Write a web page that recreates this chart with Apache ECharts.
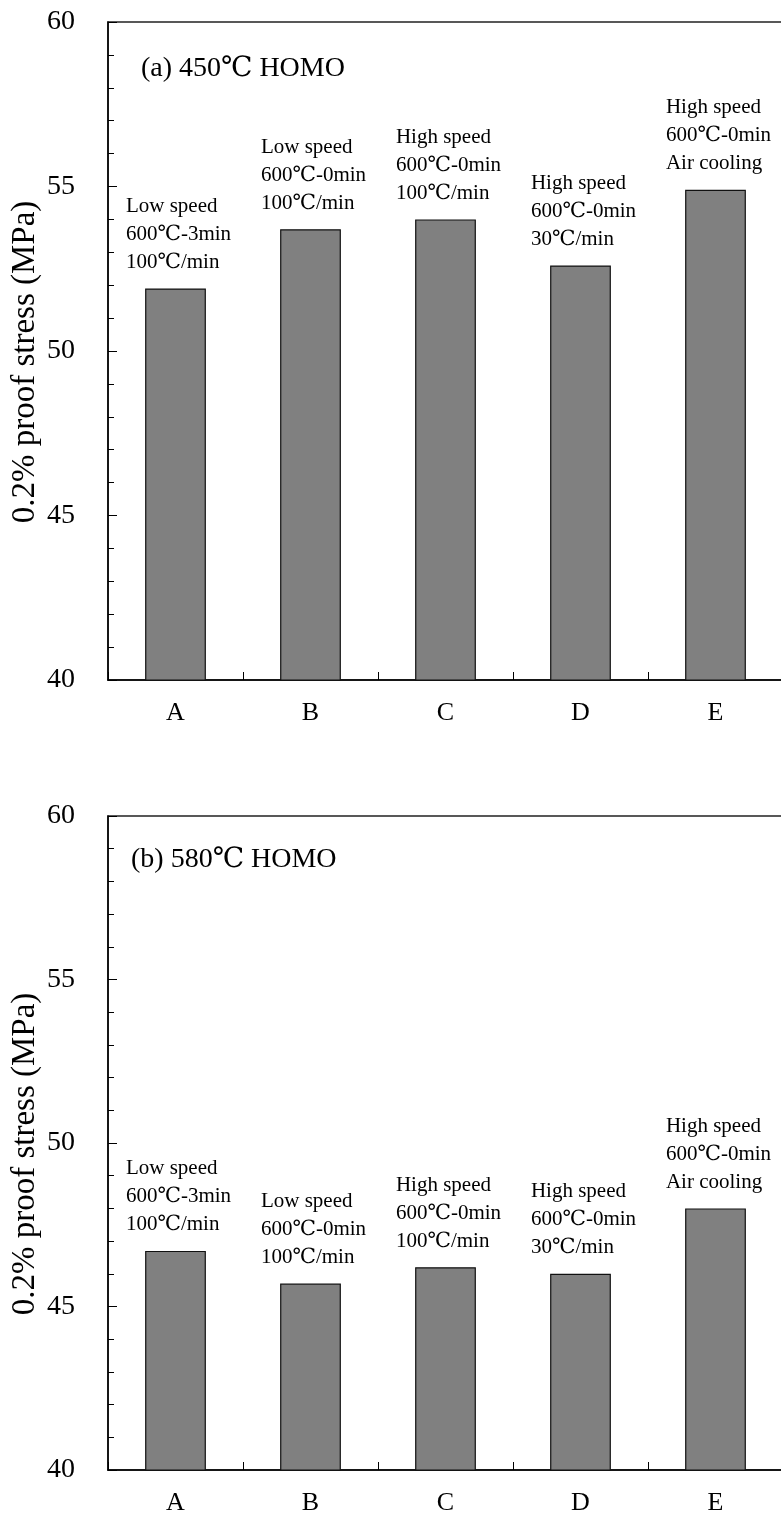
<!DOCTYPE html>
<html>
<head>
<meta charset="utf-8">
<script src="https://cdn.jsdelivr.net/npm/echarts@6/dist/echarts.min.js"></script>
<style>
  html, body { margin: 0; padding: 0; background: #fff; }
  #chart { width: 781px; height: 1519px; }
</style>
</head>
<body>
<div id="chart"></div>
<script>
// Samples and processing routes
const categories = ['A', 'B', 'C', 'D', 'E'];
const conditions = [
  ['Low speed', '600℃-3min', '100℃/min'],
  ['Low speed', '600℃-0min', '100℃/min'],
  ['High speed', '600℃-0min', '100℃/min'],
  ['High speed', '600℃-0min', '30℃/min'],
  ['High speed', '600℃-0min', 'Air cooling']
];
// 0.2% proof stress (MPa) after each homogenization
const stress450 = [51.9, 53.7, 54.0, 52.6, 54.9];
const stress580 = [46.7, 45.7, 46.2, 46.0, 48.0];
const panelTitles = ['(a) 450℃ HOMO', '(b) 580℃ HOMO'];
const yMin = 40, yMax = 60, yStep = 5;
const yAxisName = '0.2% proof stress (MPa)';

const FONT = "'Liberation Serif', 'DejaVu Serif', 'Times New Roman', serif";
const INK = '#000';

const chart = echarts.init(document.getElementById('chart'), null, { renderer: 'canvas' });

// Plot boxes; the right edge sits just past the canvas, so only three sides show
const grids = [
  { left: 108, top: 22, width: 675, height: 658 },
  { left: 108, top: 816, width: 675, height: 654 }
].map(g => Object.assign({
  show: true, borderColor: '#222', borderWidth: 1.5,
  backgroundColor: 'transparent', containLabel: false, outerBoundsMode: 'none'
}, g));

function xAxisFor(i) {
  return {
    type: 'category', gridIndex: i, data: categories,
    axisLine: { lineStyle: { color: INK, width: 1.5 } },
    axisTick: { show: true, inside: true, length: 8, alignWithLabel: false, lineStyle: { color: INK, width: 1 } },
    axisLabel: { fontFamily: FONT, fontSize: 26, color: INK, margin: 20 },
    splitLine: { show: false }
  };
}

function yAxisFor(i) {
  return {
    type: 'value', gridIndex: i, min: yMin, max: yMax, interval: yStep,
    name: yAxisName, nameLocation: 'middle', nameGap: 66, nameRotate: 90,
    nameMoveOverlap: false,
    // extra right padding nudges the rotated title slightly downward
    nameTextStyle: { fontFamily: FONT, fontSize: 33, color: INK, padding: [0, 22, 0, 0] },
    axisLine: { show: true, lineStyle: { color: INK, width: 1.5 } },
    axisTick: { show: true, inside: true, length: 9, lineStyle: { color: INK, width: 1 } },
    minorTick: { show: true, splitNumber: 5, length: 6, lineStyle: { color: INK, width: 1 } },
    axisLabel: { fontFamily: FONT, fontSize: 28, color: INK, margin: 33 },
    splitLine: { show: false }
  };
}

function barSeries(i, values) {
  return {
    type: 'bar', xAxisIndex: i, yAxisIndex: i,
    data: values, barWidth: '45%',
    itemStyle: { color: '#808080', borderColor: '#111', borderWidth: 1.2 },
    label: {
      show: true, position: 'top', distance: 12, offset: [3, 0],
      formatter: p => conditions[p.dataIndex].map(s => '{l|' + s + '}').join('\n'),
      rich: { l: { align: 'left', fontFamily: FONT, fontSize: 21, lineHeight: 28, color: INK } }
    },
    silent: true, animation: false
  };
}

chart.setOption({
  animation: false,
  backgroundColor: '#fff',
  title: [
    { text: panelTitles[0], left: 136, top: 50, textStyle: { fontFamily: FONT, fontSize: 28, fontWeight: 'normal', color: INK } },
    { text: panelTitles[1], left: 126, top: 841, textStyle: { fontFamily: FONT, fontSize: 28, fontWeight: 'normal', color: INK } }
  ],
  grid: grids,
  xAxis: [xAxisFor(0), xAxisFor(1)],
  yAxis: [yAxisFor(0), yAxisFor(1)],
  series: [barSeries(0, stress450), barSeries(1, stress580)]
});
</script>
</body>
</html>
